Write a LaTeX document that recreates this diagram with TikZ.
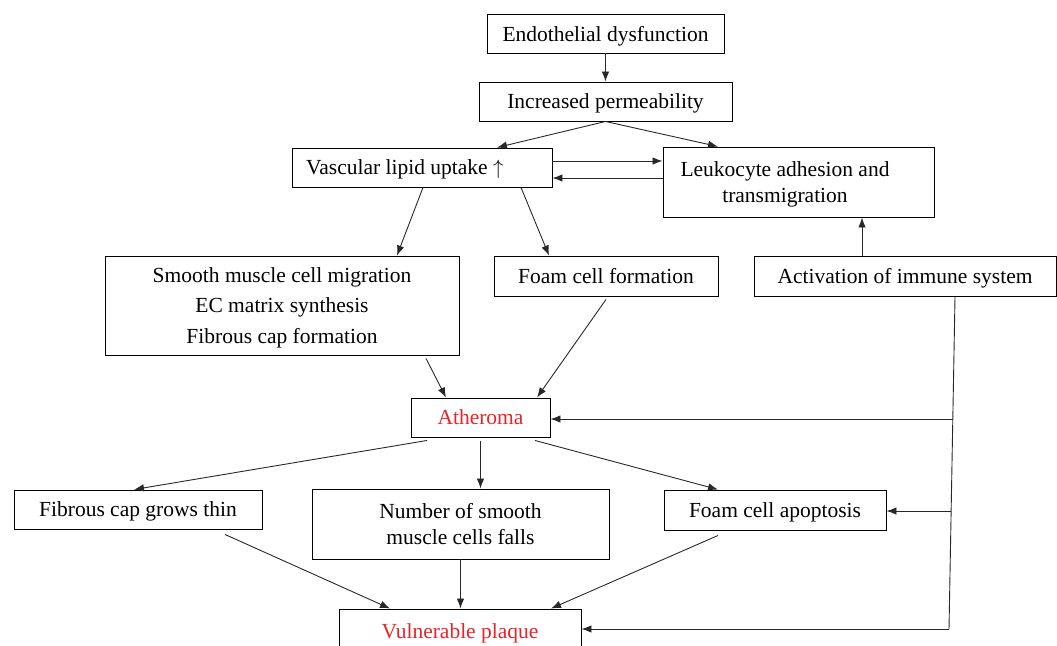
\documentclass[tikz,border=0pt]{standalone}
\usepackage{fontspec}
\setmainfont{Liberation Serif}
\usetikzlibrary{arrows.meta}
\definecolor{atred}{RGB}{232,36,40}
\definecolor{lncol}{RGB}{40,40,40}
\begin{document}
\begin{tikzpicture}[x=1pt,y=-1pt,
  box/.style={draw=black,line width=0.95pt,inner sep=0pt,align=center,text depth=0pt,font=\fontsize{21.5}{26}\selectfont},
  txt/.style={inner sep=0pt,align=center,text depth=0pt,font=\fontsize{21.5}{26}\selectfont},
  arr/.style={draw=lncol,line width=0.9pt,-{Latex[length=10pt,width=7.5pt]}},
  ln/.style={draw=lncol,line width=0.9pt}]
\useasboundingbox (0,0) rectangle (1057,645);
\clip (0,0) rectangle (1057,645);

\node[box,minimum width=237,minimum height=39] (ed) at (605.5,33.5) {Endothelial dysfunction};
\node[box,minimum width=253,minimum height=39] (ip) at (605.5,101.5) {Increased permeability};
\node[box,minimum width=260,minimum height=39] (vl) at (422,167.5) {};
\node[txt,anchor=west] (vlt) at (306,167.5) {Vascular lipid uptake $\uparrow$};
\node[box,minimum width=271,minimum height=70] (lk) at (798.5,182) {};
\node[txt] (lkt) at (785,182) {Leukocyte adhesion and\\transmigration};
\node[box,minimum width=354,minimum height=99,font=\fontsize{21.5}{30.5}\selectfont] (sm) at (282,305.5) {Smooth muscle cell migration\\EC matrix synthesis\\Fibrous cap formation};
\node[box,minimum width=224,minimum height=40] (fc) at (606,276) {Foam cell formation};
\node[box,minimum width=302,minimum height=40] (im) at (905,276) {Activation of immune system};
\node[box,minimum width=139,minimum height=39,text=atred] (at) at (480.5,417.5) {Atheroma};
\node[box,minimum width=248,minimum height=39] (fct) at (138,509.5) {Fibrous cap grows thin};
\node[box,minimum width=297,minimum height=70] (nsm) at (460.5,524) {Number of smooth\\muscle cells falls};
\node[box,minimum width=222,minimum height=40] (fca) at (775,510) {Foam cell apoptosis};
\node[box,minimum width=242,minimum height=44,text=atred] (vp) at (460,631) {Vulnerable plaque};

% top
\draw[arr] (ed.south) -- (ip.north);
\draw[arr] (ip.south) -- ([xshift=75pt]vl.north);
\draw[arr] (ip.south) -- ([xshift=-80.5pt]lk.north);
\draw[arr] ([yshift=6.5pt]vl.east) -- ([yshift=6.5pt]vl.east -| lk.west);
\draw[arr] ([yshift=4pt]lk.west) -- ([yshift=4pt]lk.west -| vl.east);
\draw[arr] ([xshift=1pt]vl.south) -- ([xshift=115pt]sm.north);
\draw[arr] ([xshift=99pt]vl.south) -- ([xshift=-57pt]fc.north);
\draw[arr] ([xshift=-43pt]im.north) -- ([xshift=-43pt]im.north |- lk.south);
% to atheroma
\draw[arr] ([xshift=144pt,yshift=-3pt]sm.south) -- ([xshift=-34.5pt]at.north);
\draw[arr] ([yshift=-3pt]fc.south) -- ([xshift=56.5pt]at.north);
% from atheroma
\draw[arr] ([xshift=-53.5pt,yshift=-3pt]at.south) -- ([xshift=-4pt]fct.north);
\draw[arr] ([yshift=-4pt]at.south) -- (at.south |- nsm.north);
\draw[arr] ([xshift=54.5pt,yshift=-3pt]at.south) -- ([xshift=-57pt]fca.north);
% to vulnerable plaque
\draw[arr] ([xshift=87pt,yshift=-5pt]fct.south) -- ([xshift=-70pt]vp.north);
\draw[arr] (nsm.south) -- (nsm.south |- vp.north);
\draw[arr] ([xshift=-57pt,yshift=-5pt]fca.south) -- ([xshift=91pt]vp.north);
% immune system feedback line
\coordinate (r0) at (955,297);
\coordinate (r1) at (952.8,419);
\coordinate (r2) at (951.1,511);
\coordinate (r3) at (949,629);
\draw[ln] (r0) -- (r3);
\draw[arr] (r1) -- (r1 -| at.east);
\draw[arr] (r2) -- (r2 -| fca.east);
\draw[arr] (r3) -- (r3 -| vp.east);
\end{tikzpicture}
\end{document}
